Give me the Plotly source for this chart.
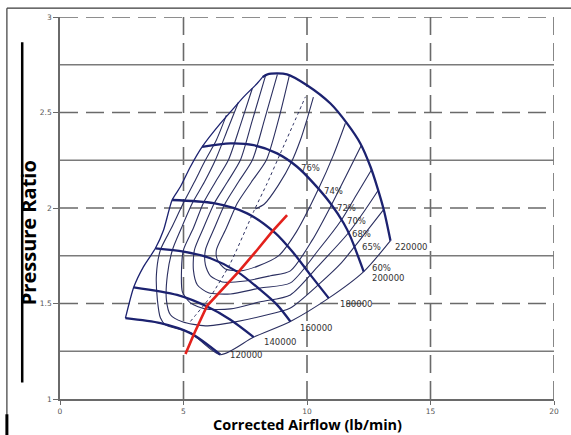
import plotly.graph_objects as go

# ---- axes and grid -------------------------------------------------------
x_ticks = [0, 5, 10, 15, 20]
y_ticks = [1, 1.5, 2, 2.5, 3]
y_tick_text = ["1", "1.5", "2", "2.5", "3"]
dashed_x = [5, 10, 15, 20]
dashed_y = [1.5, 2, 2.5, 3]
solid_y = [1.25, 1.75, 2.25, 2.75]

# ---- surge line ----------------------------------------------------------
surge_x = [2.648, 2.984, 3.377, 3.863, 4.194, 4.538, 4.874, 5.279, 5.753, 6.494, 6.899, 7.437, 7.980, 8.20]
surge_y = [1.423, 1.585, 1.692, 1.789, 1.885, 2.042, 2.111, 2.216, 2.320, 2.443, 2.503, 2.582, 2.652, 2.685]

# ---- corrected speed lines (rpm) ----------------------------------------
spd120_x = [2.648, 4.065, 5.279, 6.494]
spd120_y = [1.423, 1.397, 1.345, 1.232]
spd140_x = [2.984, 4.741, 5.955, 6.899, 7.842]
spd140_y = [1.585, 1.545, 1.484, 1.415, 1.324]
spd160_x = [3.862, 5.008, 6.089, 7.170, 8.113, 8.789, 9.328]
spd160_y = [1.789, 1.772, 1.737, 1.667, 1.571, 1.493, 1.406]
spd180_x = [4.538, 6.223, 7.575, 8.721, 9.462, 10.137, 10.879]
spd180_y = [2.042, 2.025, 1.972, 1.868, 1.763, 1.650, 1.528]
spd200_x = [5.753, 6.899, 7.842, 8.789, 9.599, 10.270, 10.947, 11.486, 11.757, 12.296]
spd200_y = [2.320, 2.338, 2.329, 2.286, 2.216, 2.129, 2.025, 1.920, 1.850, 1.667]
spd220_x = [8.20, 8.40, 9.19, 10.00, 10.95, 11.62, 12.16, 12.57, 12.84, 13.11, 13.38]
spd220_y = [2.685, 2.700, 2.700, 2.643, 2.547, 2.443, 2.338, 2.216, 2.111, 1.990, 1.829]

spd_text = ["120000", "140000", "160000", "180000", "200000", "220000"]
spd_lbl_x = [6.818, 8.194, 9.652, 11.271, 12.567, 13.486]
spd_lbl_y = [1.232, 1.296, 1.371, 1.498, 1.633, 1.795]

# ---- efficiency islands --------------------------------------------------
eff60_arm_x = [6.737, 6.332, 5.887, 5.441, 4.996, 4.510, 4.065, 3.903, 3.943, 4.065, 4.267, 5.279]
eff60_arm_y = [2.486, 2.356, 2.251, 2.136, 2.026, 1.895, 1.780, 1.650, 1.519, 1.425, 1.388, 1.347]
eff65_x = [7.223, 6.777, 6.291, 5.846, 5.360, 4.915, 4.551, 4.348, 4.308, 4.470, 4.955, 5.887, 7.101,
           8.194, 9.328, 10.543, 11.352, 11.919, 13.093]
eff65_y = [2.554, 2.408, 2.251, 2.136, 2.026, 1.895, 1.780, 1.650, 1.519, 1.441, 1.404, 1.383, 1.404,
           1.435, 1.477, 1.608, 1.707, 1.796, 1.990]
eff68_x = [7.789, 7.304, 6.818, 6.291, 5.806, 5.401, 4.996, 4.915, 4.955, 5.279, 5.887, 6.899, 8.113,
           9.328, 10.462, 11.676, 12.324, 12.891]
eff68_y = [2.627, 2.434, 2.251, 2.136, 2.026, 1.895, 1.780, 1.650, 1.561, 1.503, 1.472, 1.472, 1.509,
           1.545, 1.697, 1.869, 1.984, 2.094]
eff70_x = [8.316, 7.789, 7.304, 6.777, 6.251, 5.806, 5.441, 5.401, 5.563, 6.008, 6.899, 8.113, 9.328,
           10.462, 11.393, 12.000, 12.607]
eff70_y = [2.690, 2.460, 2.251, 2.136, 2.026, 1.895, 1.780, 1.676, 1.597, 1.556, 1.550, 1.581, 1.608,
           1.780, 1.937, 2.068, 2.199]
eff72_x = [8.802, 8.275, 7.789, 7.223, 6.696, 6.251, 5.887, 5.887, 6.089, 6.575, 7.506, 8.518, 9.328,
           10.219, 10.988, 11.595, 12.202]
eff72_y = [2.700, 2.460, 2.251, 2.136, 2.026, 1.895, 1.780, 1.702, 1.645, 1.613, 1.618, 1.645, 1.671,
           1.833, 2.016, 2.172, 2.329]
eff74_x = [9.287, 8.842, 8.356, 7.749, 7.182, 6.737, 6.332, 6.372, 6.696, 7.304, 8.032, 8.842, 9.571,
           10.462, 11.069, 11.555]
eff74_y = [2.695, 2.460, 2.251, 2.136, 2.026, 1.895, 1.780, 1.728, 1.681, 1.671, 1.697, 1.749, 1.875,
           2.099, 2.277, 2.444]
eff76_x = [7.911, 8.275, 8.842, 9.368, 9.733, 10.016, 10.259]
eff76_y = [1.995, 2.021, 2.120, 2.240, 2.356, 2.471, 2.580]

eff_text = ["76%", "74%", "72%", "70%", "68%", "65%", "60%"]
eff_lbl_x = [9.664, 10.611, 11.150, 11.555, 11.757, 12.162, 12.567]
eff_lbl_y = [2.208, 2.087, 2.002, 1.932, 1.864, 1.795, 1.685]

# peak-efficiency ridge (dotted)
ridge_x = [5.279, 6.089, 6.899, 7.870, 8.385, 8.923, 9.462, 9.935]
ridge_y = [1.406, 1.536, 1.711, 1.990, 2.129, 2.286, 2.443, 2.582]

# engine operating line
op_x = [5.08, 5.41, 5.955, 7.235, 7.98, 8.587, 9.194]
op_y = [1.236, 1.336, 1.488, 1.667, 1.78, 1.876, 1.963]

# -------------------------------------------------------------------------
SPEED_CLR = "#1c2270"
THIN_CLR = "#2b2f60"
GRID_CLR = "#6a6a6a"

speed_x = [spd120_x, spd140_x, spd160_x, spd180_x, spd200_x, spd220_x]
speed_y = [spd120_y, spd140_y, spd160_y, spd180_y, spd200_y, spd220_y]

# the 60% contour closes along the choke side through the speed-line ends
eff60_x = eff60_arm_x + [sx[-1] for sx in speed_x]
eff60_y = eff60_arm_y + [sy[-1] for sy in speed_y]

fig = go.Figure()

for ex, ey in [(eff60_x, eff60_y), (eff65_x, eff65_y), (eff68_x, eff68_y), (eff70_x, eff70_y),
               (eff72_x, eff72_y), (eff74_x, eff74_y), (eff76_x, eff76_y)]:
    fig.add_trace(go.Scatter(x=ex, y=ey, mode="lines",
                             line=dict(color=THIN_CLR, width=1.1, shape="spline", smoothing=0.7),
                             hoverinfo="skip"))

fig.add_trace(go.Scatter(x=ridge_x, y=ridge_y, mode="lines",
                         line=dict(color=THIN_CLR, width=1, dash="dot", shape="spline", smoothing=0.6),
                         hoverinfo="skip"))

fig.add_trace(go.Scatter(x=surge_x, y=surge_y, mode="lines",
                         line=dict(color=SPEED_CLR, width=1.3, shape="spline", smoothing=0.6),
                         hoverinfo="skip"))

for sx, sy in zip(speed_x, speed_y):
    fig.add_trace(go.Scatter(x=sx, y=sy, mode="lines",
                             line=dict(color=SPEED_CLR, width=2.3, shape="spline", smoothing=0.8),
                             hoverinfo="skip"))

fig.add_trace(go.Scatter(x=op_x, y=op_y, mode="lines",
                         line=dict(color="#e3211c", width=2.6), hoverinfo="skip"))

shapes = []
for gx in dashed_x:
    shapes.append(dict(type="line", xref="x", yref="y", x0=gx, x1=gx, y0=y_ticks[0], y1=y_ticks[-1],
                       line=dict(color=GRID_CLR, width=1.6, dash="18px,8px"), layer="below"))
for gy in dashed_y:
    shapes.append(dict(type="line", xref="x", yref="y", x0=x_ticks[0], x1=x_ticks[-1], y0=gy, y1=gy,
                       line=dict(color=GRID_CLR, width=1.6, dash="18px,8px"), layer="below"))
for gy in solid_y:
    shapes.append(dict(type="line", xref="x", yref="y", x0=x_ticks[0], x1=x_ticks[-1], y0=gy, y1=gy,
                       line=dict(color="#7a7a7a", width=1.3), layer="below"))

# page frame and the rule beside the y title
shapes += [
    dict(type="line", xref="paper", yref="paper", x0=-0.1075, x1=1.045, y0=1.023, y1=1.023,
         line=dict(color="#3a3a3a", width=1.2)),
    dict(type="line", xref="paper", yref="paper", x0=-0.1075, x1=-0.1075, y0=1.023, y1=-0.095,
         line=dict(color="#3a3a3a", width=1.2)),
    dict(type="line", xref="paper", yref="paper", x0=-0.1075, x1=-0.1075, y0=-0.04, y1=-0.095,
         line=dict(color="#000000", width=3)),
    dict(type="line", xref="paper", yref="paper", x0=-0.0765, x1=-0.0765, y0=0.934, y1=0.043,
         line=dict(color="#000000", width=2.5)),
]

annotations = []
for t, ax, ay in zip(spd_text, spd_lbl_x, spd_lbl_y):
    annotations.append(dict(x=ax, y=ay, xref="x", yref="y", text=t, showarrow=False,
                            xanchor="left", yanchor="middle",
                            font=dict(family="DejaVu Sans", size=8.5, color="#333333")))
for t, ax, ay in zip(eff_text, eff_lbl_x, eff_lbl_y):
    annotations.append(dict(x=ax, y=ay, xref="x", yref="y", text=t, showarrow=False,
                            xanchor="left", yanchor="middle",
                            font=dict(family="DejaVu Sans", size=8.5, color="#333333")))

annotations.append(dict(x=-0.064, y=0.435, xref="paper", yref="paper", text="<b>Pressure Ratio</b>",
                        textangle=-90, showarrow=False, xanchor="center", yanchor="middle",
                        font=dict(family="Open Sans", size=20, color="#000000")))
annotations.append(dict(x=0.5, y=-0.068, xref="paper", yref="paper",
                        text="<b>Corrected Airflow (lb/min)</b>", showarrow=False,
                        xanchor="center", yanchor="middle",
                        font=dict(family="Open Sans", size=14.5, color="#000000")))

fig.update_layout(
    width=571, height=435,
    margin=dict(l=60, r=17, t=17, b=36),
    paper_bgcolor="white", plot_bgcolor="white",
    showlegend=False,
    shapes=shapes, annotations=annotations,
    xaxis=dict(range=[x_ticks[0], x_ticks[-1]], tickvals=x_ticks, showgrid=False, zeroline=False,
               showline=True, linecolor="#6a6a6a", linewidth=1.5, ticks="outside", ticklen=4,
               tickcolor="#6a6a6a", tickfont=dict(family="DejaVu Sans", size=7.5, color="#555555")),
    yaxis=dict(range=[y_ticks[0], y_ticks[-1]], tickvals=y_ticks, ticktext=y_tick_text, showgrid=False,
               zeroline=False, showline=True, linecolor="#6a6a6a", linewidth=1.5, ticks="outside",
               ticklen=5, tickcolor="#6a6a6a",
               tickfont=dict(family="DejaVu Sans", size=7.5, color="#555555")),
)

fig.write_html("out.html", config={"displayModeBar": False})
